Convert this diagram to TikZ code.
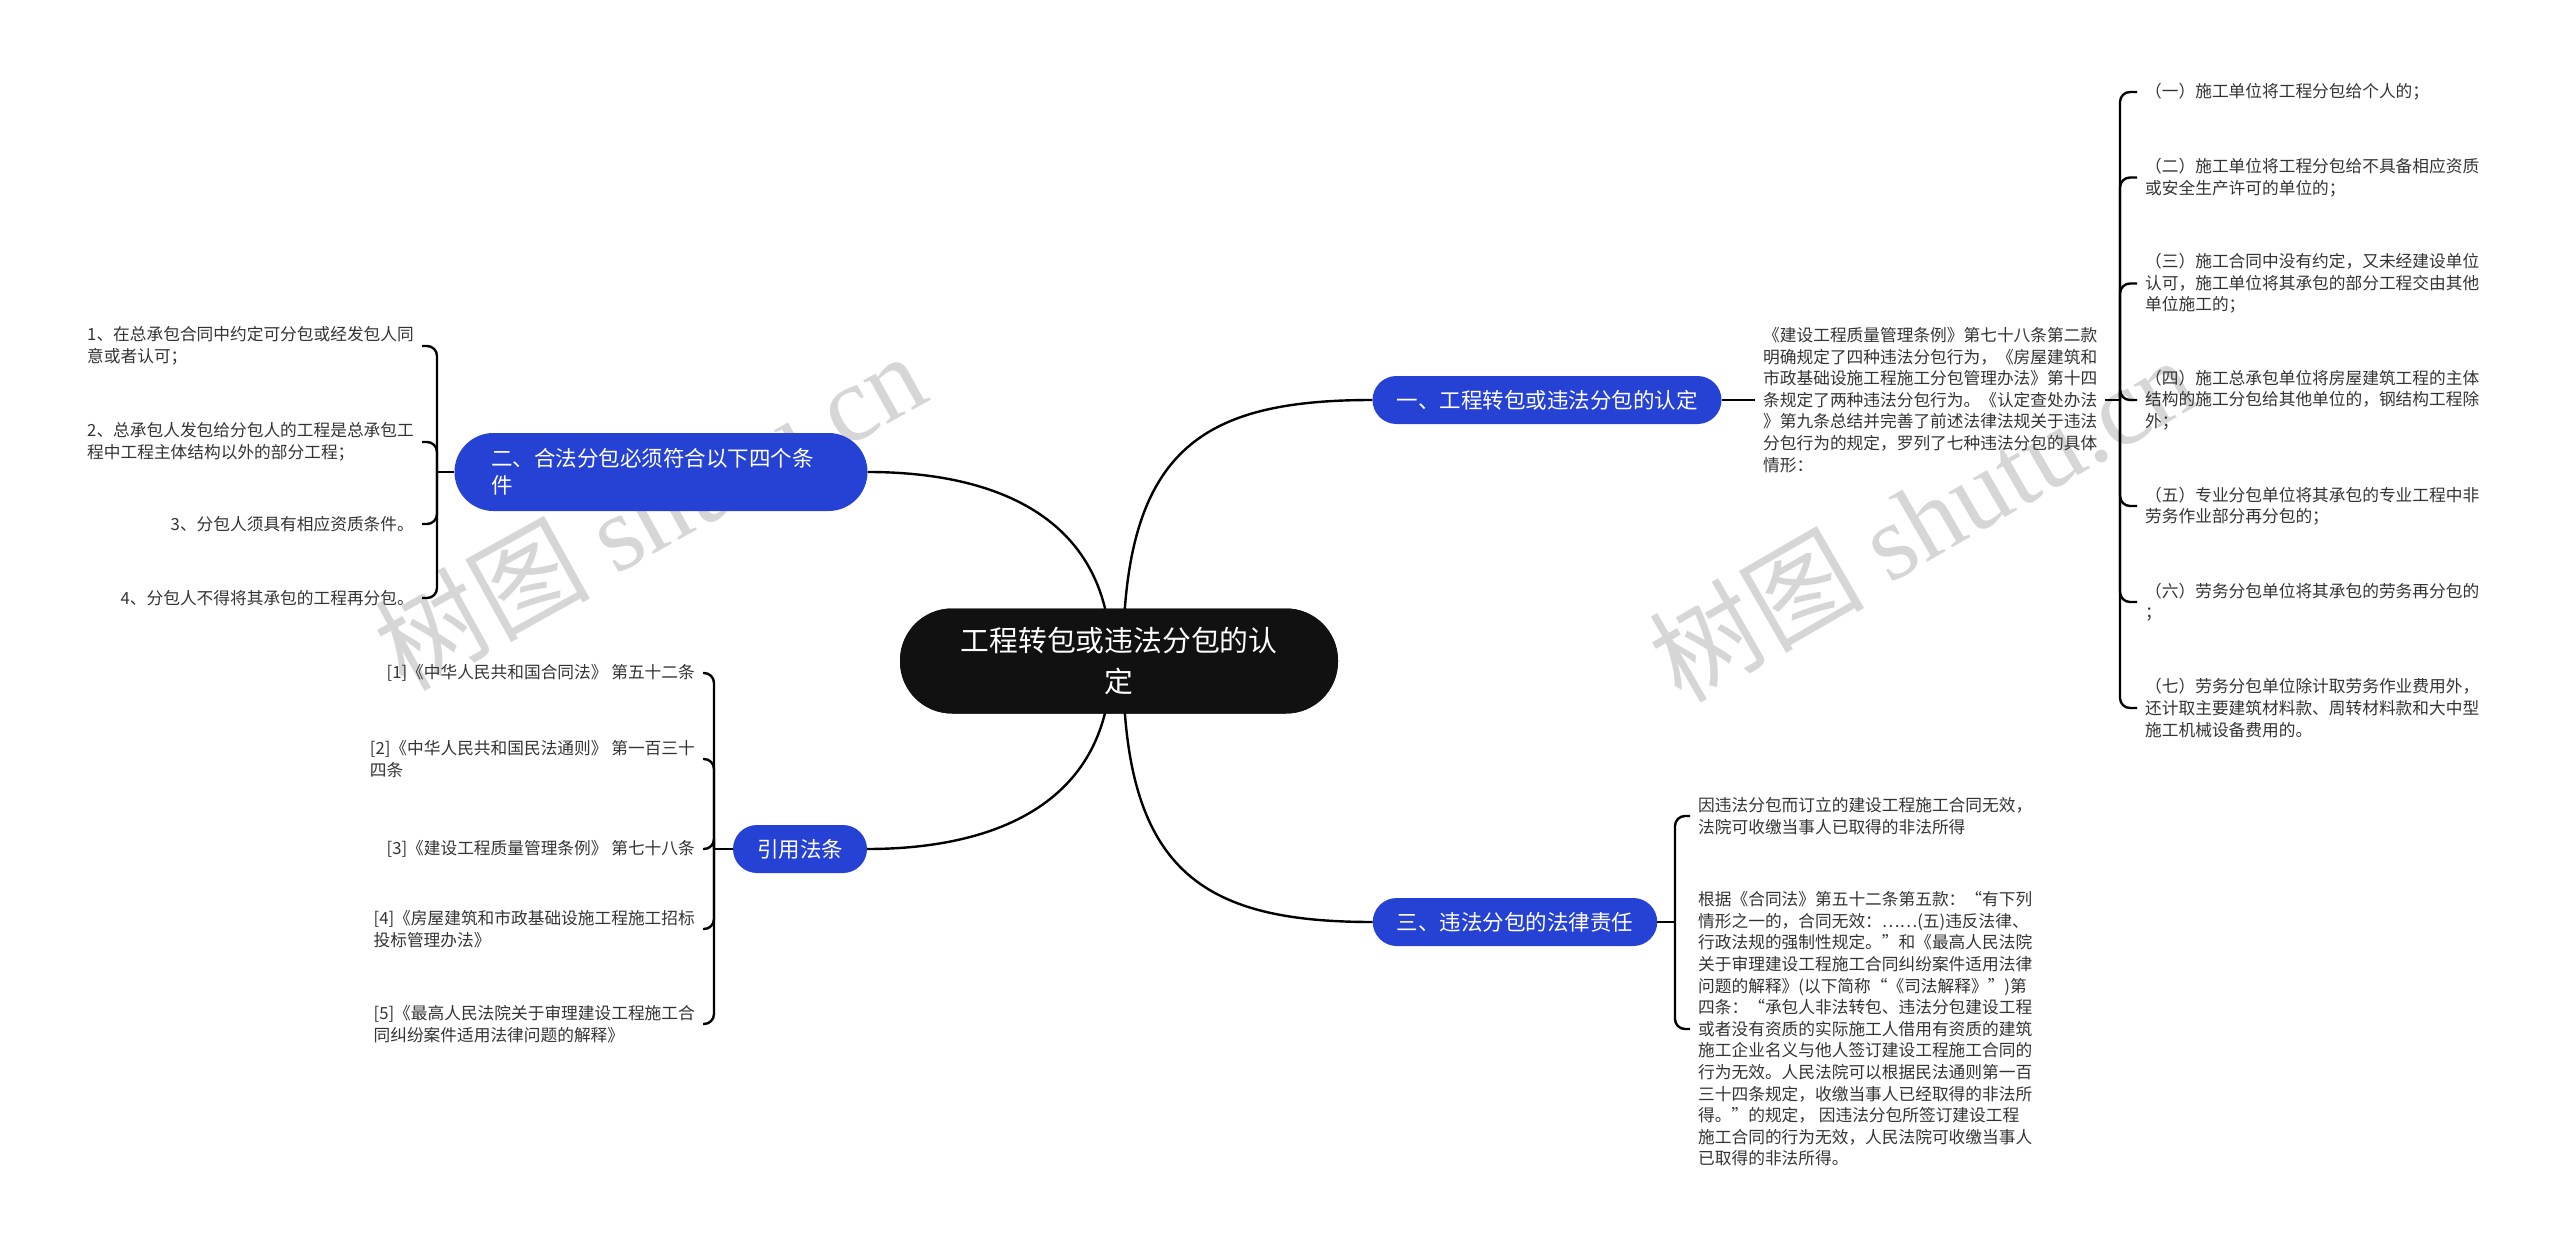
\documentclass[tikz,border=0pt]{standalone}
\usepackage{fontspec}
\setmainfont{Noto Sans CJK SC}
\newfontfamily\wmserif{Liberation Serif}

\definecolor{topicblue}{RGB}{38,66,212}
\definecolor{rootblack}{RGB}{17,17,17}
\definecolor{leafgray}{RGB}{51,51,51}
\definecolor{wmgray}{RGB}{214,214,214}
\newcommand{\leafsize}{\fontsize{16.7}{21.6}\selectfont}

\begin{document}
\begin{tikzpicture}[x=1pt, y=-1pt,
    root/.style={rectangle, rounded corners=52pt, fill=rootblack, text=white, minimum width=438pt,
        minimum height=105pt, align=center, font=\fontsize{28.8}{41.7}\selectfont},
    topic/.style={rectangle, rounded corners=24pt, fill=topicblue, text=white, minimum height=48pt,
        inner xsep=24pt, font=\fontsize{21.5}{27}\selectfont},
    leaf/.style={inner xsep=8pt, inner ysep=0pt, align=left, text=leafgray, font=\leafsize},
    wm/.style={text=wmgray, font=\fontsize{108}{108}\selectfont},
    link/.style={line width=2.4pt},
    brace/.style={line width=2.4pt, rounded corners=10pt}]
    \useasboundingbox (0,0) rectangle (2560,1249);

    \node[wm, rotate=29] (wm1) at (649,510) {树图 {\wmserif shutu.cn}};
    \node[wm, rotate=30] (wm2) at (1922,518) {树图 {\wmserif shutu.cn}};

    \node[root] (c) at (1119,661) {工程转包或违法分包的认\\定};
    \node[topic] (n1) at (1547,400) {一、工程转包或违法分包的认定};
    \node[topic, minimum width=413pt, minimum height=78pt, rounded corners=39pt, text width=340pt,
        align=left] (n2) at (661,472) {二、合法分包必须符合以下四个条\\件};
    \node[topic] (n3) at (1515,922) {三、违法分包的法律责任};
    \node[topic] (n4) at (800,849) {引用法条};

    \draw[link] ([xshift=4pt]c.center) .. controls (1123,450) and (1200,400) .. (n1.west);
    \draw[link] ([xshift=4pt]c.center) .. controls (1123,870) and (1200,922) .. (n3.west);
    \draw[link] ([xshift=-8pt]c.center) .. controls (1111,520) and (1000,472) .. (n2.east);
    \draw[link] ([xshift=-8pt]c.center) .. controls (1111,800) and (1000,849) .. (n4.east);
    \node[root] at (c) {工程转包或违法分包的认\\定};

    \node[leaf, anchor=west] (t0) at (1755,400) {《建设工程质量管理条例》第七十八条第二款\\明确规定了四种违法分包行为，《房屋建筑和\\市政基础设施工程施工分包管理办法》第十四\\条规定了两种违法分包行为。《认定查处办法\\》第九条总结并完善了前述法律法规关于违法\\分包行为的规定，罗列了七种违法分包的具体\\情形：};
    \coordinate (b1) at (2120,400);
    \node[leaf, anchor=west] (r1) at (2137,92) {（一）施工单位将工程分包给个人的；};
    \node[leaf, anchor=west] (r2) at (2137,177.5) {（二）施工单位将工程分包给不具备相应资质\\或安全生产许可的单位的；};
    \node[leaf, anchor=west] (r3) at (2137,283.5) {（三）施工合同中没有约定，又未经建设单位\\认可，施工单位将其承包的部分工程交由其他\\单位施工的；};
    \node[leaf, anchor=west] (r4) at (2137,400) {（四）施工总承包单位将房屋建筑工程的主体\\结构的施工分包给其他单位的，钢结构工程除\\外；};
    \node[leaf, anchor=west] (r5) at (2137,506) {（五）专业分包单位将其承包的专业工程中非\\劳务作业部分再分包的；};
    \node[leaf, anchor=west] (r6) at (2137,602) {（六）劳务分包单位将其承包的劳务再分包的\\；};
    \node[leaf, anchor=west] (r7) at (2137,708) {（七）劳务分包单位除计取劳务作业费用外，\\还计取主要建筑材料款、周转材料款和大中型\\施工机械设备费用的。};
    \draw[link] (n1.east) -- (t0.west);
    \draw[link] (t0.east) -- (b1);
    \foreach \i in {1,...,7}
        \draw[brace] (b1) |- (r\i.west);

    \coordinate (b3) at (1675,922);
    \node[leaf, anchor=west] (s1) at (1690,816) {因违法分包而订立的建设工程施工合同无效，\\法院可收缴当事人已取得的非法所得};
    \node[leaf, anchor=west] (s2) at (1690,1029) {根据《合同法》第五十二条第五款：“有下列\\情形之一的，合同无效：……(五)违反法律、\\行政法规的强制性规定。”和《最高人民法院\\关于审理建设工程施工合同纠纷案件适用法律\\问题的解释》(以下简称“《司法解释》”)第\\四条：“承包人非法转包、违法分包建设工程\\或者没有资质的实际施工人借用有资质的建筑\\施工企业名义与他人签订建设工程施工合同的\\行为无效。人民法院可以根据民法通则第一百\\三十四条规定，收缴当事人已经取得的非法所\\得。”的规定， 因违法分包所签订建设工程\\施工合同的行为无效，人民法院可收缴当事人\\已取得的非法所得。};
    \draw[link] (n3.east) -- (b3);
    \foreach \i in {1,2}
        \draw[brace] (b3) |- (s\i.west);

    \coordinate (b2) at (437,472);
    \node[leaf, anchor=east] (l1) at (422,346) {1、在总承包合同中约定可分包或经发包人同\\意或者认可；};
    \node[leaf, anchor=east] (l2) at (422,442) {2、总承包人发包给分包人的工程是总承包工\\程中工程主体结构以外的部分工程；};
    \node[leaf, anchor=east] (l3) at (422,524) {3、分包人须具有相应资质条件。};
    \node[leaf, anchor=east] (l4) at (422,598) {4、分包人不得将其承包的工程再分包。};
    \draw[link] (n2.west) -- (b2);
    \foreach \i in {1,...,4}
        \draw[brace] (b2) |- (l\i.east);

    \coordinate (b4) at (714,849);
    \node[leaf, anchor=east] (f1) at (703,673) {[1]《中华人民共和国合同法》 第五十二条};
    \node[leaf, anchor=east] (f2) at (703,759) {[2]《中华人民共和国民法通则》 第一百三十\\四条};
    \node[leaf, anchor=east] (f3) at (703,849) {[3]《建设工程质量管理条例》 第七十八条};
    \node[leaf, anchor=east] (f4) at (703,929) {[4]《房屋建筑和市政基础设施工程施工招标\\投标管理办法》};
    \node[leaf, anchor=east] (f5) at (703,1024) {[5]《最高人民法院关于审理建设工程施工合\\同纠纷案件适用法律问题的解释》};
    \draw[link] (n4.west) -- (b4);
    \foreach \i in {1,...,5}
        \draw[brace] (b4) |- (f\i.east);
\end{tikzpicture}
\end{document}
